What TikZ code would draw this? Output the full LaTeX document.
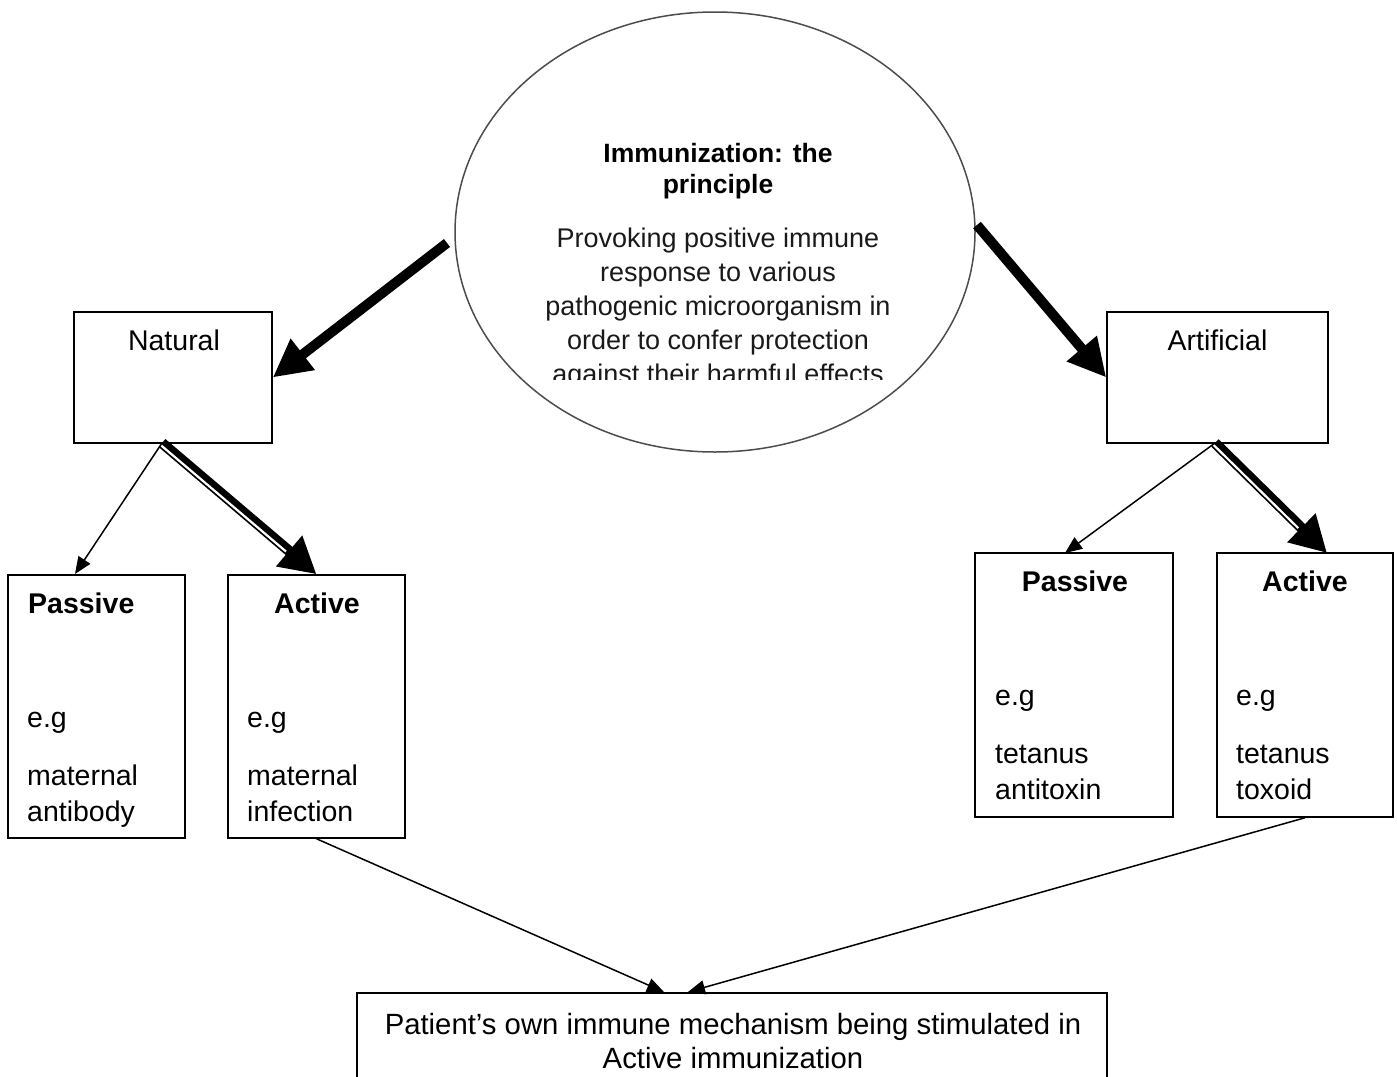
\documentclass[tikz,border=0pt]{standalone}
\usepackage{fontspec}
\setmainfont{Liberation Sans}
\usetikzlibrary{arrows.meta,calc,shapes.geometric}
\begin{document}
\begin{tikzpicture}[x=1pt,y=-1pt,
  box/.style={draw=black, line width=1.5pt, rectangle, inner sep=0pt},
  lbl/.style={font=\fontsize{28.5}{34}\selectfont, inner sep=0pt, anchor=base},
  blbl/.style={font=\fontsize{28.5}{34}\selectfont\bfseries, inner sep=0pt, anchor=base},
  lblw/.style={font=\fontsize{28.5}{34}\selectfont, inner sep=0pt, anchor=base west},
  blblw/.style={font=\fontsize{28.5}{34}\selectfont\bfseries, inner sep=0pt, anchor=base west},
  ttl/.style={font=\fontsize{26.5}{30}\selectfont\bfseries, inner sep=0pt, anchor=base},
  body/.style={font=\fontsize{27}{33}\selectfont, inner sep=0pt, anchor=base, text=black!90},
  btxt/.style={font=\fontsize{29.3}{34}\selectfont, inner sep=0pt, anchor=base},
  thick arrow/.style={line width=10pt, -{Triangle[length=38pt,width=37pt]}},
  dbl arrow/.style={line width=10.5pt, -{Triangle[length=36pt,width=38pt]}},
  thin arrow/.style={line width=1.5pt, -{Triangle[length=17pt,width=14pt]}}
]
\useasboundingbox (0,0) rectangle (1397,1076);
\clip (0,0) rectangle (1397,1076);

% ellipse
\node[draw=black!70, line width=1.5pt, ellipse, minimum width=520pt, minimum height=440pt, inner sep=0pt] (ell) at (715,232) {};
\node[ttl] (t1) at (718,162) {Immunization: the};
\node[ttl] (t2) at (718,193) {principle};
\begin{scope}
\clip (420,200) rectangle (1000,379);
\node[body] (b1) at (718,247) {Provoking positive immune};
\node[body] (b2) at (718,281) {response to various};
\node[body] (b3) at (718,315) {pathogenic microorganism in};
\node[body] (b4) at (718,349) {order to confer protection};
\node[body] (b5) at (718,383) {against their harmful effects};
\end{scope}

% level 2 boxes
\node[box, minimum width=198pt, minimum height=131pt] (natural) at (173,377.5) {};
\node[lbl] (natT) at (174,350) {Natural};
\node[box, minimum width=221pt, minimum height=131pt] (artificial) at (1217.5,377.5) {};
\node[lbl] (artT) at (1217.5,350) {Artificial};

% left leaves
\node[box, minimum width=177pt, minimum height=263pt] (pas1) at (96.5,706.5) {};
\node[blblw] (pas1T) at (28,613) {Passive};
\node[lblw] (pas1a) at (27,727) {e.g};
\node[lblw] (pas1b) at (27,785) {maternal};
\node[lblw] (pas1c) at (27,821) {antibody};

\node[box, minimum width=177pt, minimum height=263pt] (act1) at (316.5,706.5) {};
\node[blbl] (act1T) at (317,613) {Active};
\node[lblw] (act1a) at (247,727) {e.g};
\node[lblw] (act1b) at (247,785) {maternal};
\node[lblw] (act1c) at (247,821) {infection};

% right leaves
\node[box, minimum width=198pt, minimum height=264pt] (pas2) at (1074,685) {};
\node[blbl] (pas2T) at (1075,591) {Passive};
\node[lblw] (pas2a) at (995,705) {e.g};
\node[lblw] (pas2b) at (995,763) {tetanus};
\node[lblw] (pas2c) at (995,799) {antitoxin};

\node[box, minimum width=176pt, minimum height=264pt] (act2) at (1305,685) {};
\node[blbl] (act2T) at (1305,591) {Active};
\node[lblw] (act2a) at (1236,705) {e.g};
\node[lblw] (act2b) at (1236,763) {tetanus};
\node[lblw] (act2c) at (1236,799) {toxoid};

% bottom box
\node[box, minimum width=750pt, minimum height=110pt, anchor=north] (bottom) at (732,992) {};
\node[btxt] (bt1) at (733,1034) {Patient’s own immune mechanism being stimulated in};
\node[btxt] (bt2) at (733,1068) {Active immunization};

% connector endpoints
\coordinate (s1) at (447,243);
\coordinate (s2) at (977,225);
\coordinate (n1) at (162,443);
\coordinate (a1) at (1215,443);
\coordinate (p1tip) at (75,574);
\coordinate (p2tip) at (1065,553);
\coordinate (a2tip) at (1327,553);
\coordinate (btL) at (664,992);
\coordinate (btR) at (688,992);

% thick arrows
\draw[thick arrow] (s1) -- (natural.east);
\draw[thick arrow] (s2) -- (artificial.west);

% double arrows (thin line + thick line)
\draw[dbl arrow] (n1) -- (act1.north);
\coordinate (e1) at ($(act1.north)!38pt!(n1)$);
\draw[white, line width=2.2pt] ($(n1)!2.4pt!-90:(act1.north)$) -- ($(e1)!2.4pt!-90:(act1.north)$);
\draw[dbl arrow] (a1) -- (a2tip);
\coordinate (e2) at ($(a2tip)!38pt!(a1)$);
\draw[white, line width=2.2pt] ($(a1)!2.4pt!-90:(a2tip)$) -- ($(e2)!2.4pt!-90:(a2tip)$);

% thin arrows
\draw[thin arrow] (n1) -- (p1tip);
\draw[thin arrow] (a1) -- (p2tip);
\draw[thin arrow] (act1.south) -- (btL);
\draw[thin arrow] (act2.south) -- (btR);
\end{tikzpicture}
\end{document}
